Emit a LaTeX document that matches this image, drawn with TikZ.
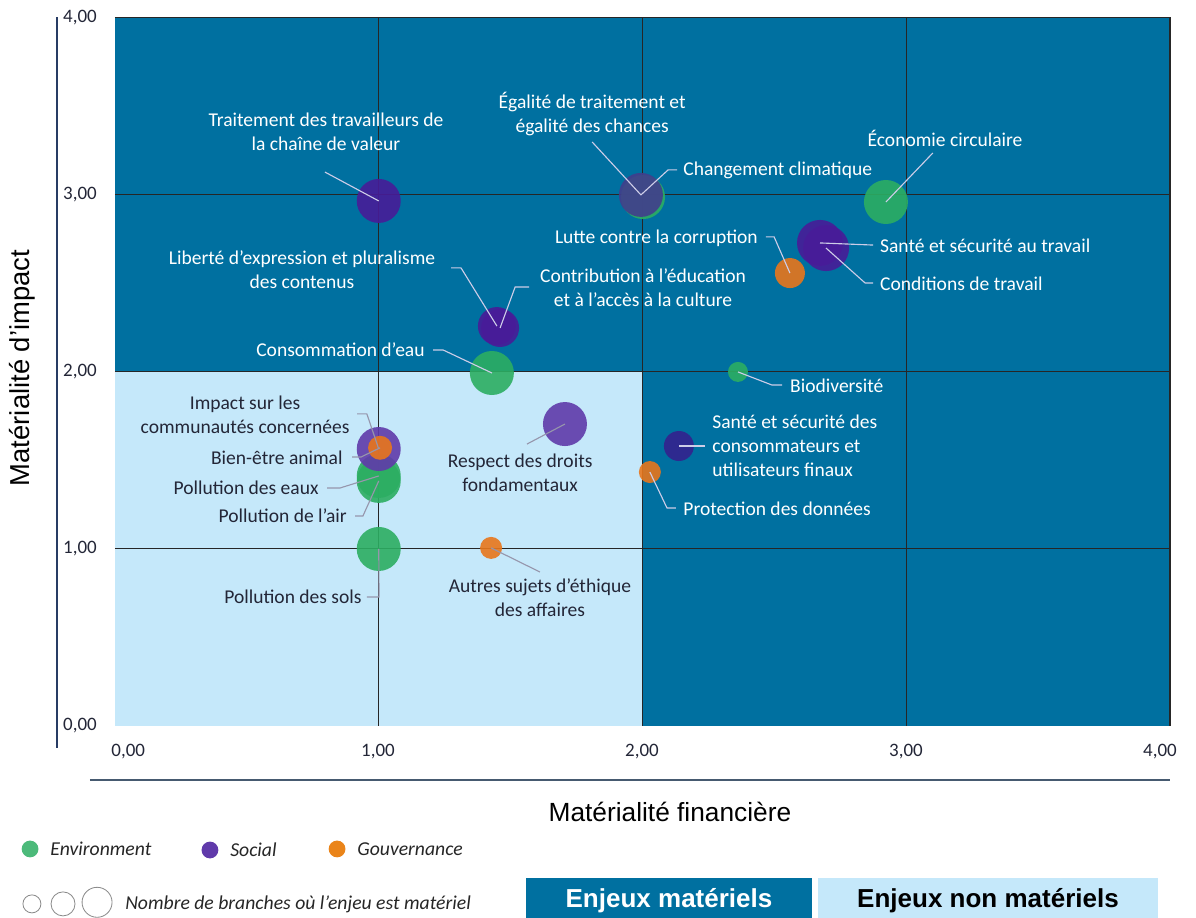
\documentclass[tikz,border=0pt]{standalone}
\usepackage{fontspec}
\setmainfont{Carlito}
\newfontfamily\arialfont{Liberation Sans}
\usetikzlibrary{positioning}
\definecolor{matblue}{RGB}{0,112,160}
\definecolor{nonmatblue}{RGB}{197,232,250}
\definecolor{envgreen}{RGB}{44,174,98}
\definecolor{socpurple}{RGB}{72,28,152}
\definecolor{soclight}{RGB}{96,58,170}
\definecolor{socdark}{RGB}{52,34,142}
\definecolor{socslate}{RGB}{66,62,140}
\definecolor{govorange}{RGB}{232,118,28}
\definecolor{leadlight}{RGB}{205,205,232}
\definecolor{leaddark}{RGB}{150,150,172}
\definecolor{lbldark}{RGB}{35,38,55}
\definecolor{axisnavy}{RGB}{40,60,100}
\definecolor{axisslate}{RGB}{70,90,112}

\begin{document}
\begin{tikzpicture}[x=6.59375cm, y=4.43cm,
	bub/.style={circle, inner sep=0pt, minimum size=#1, fill opacity=0.9},
	env/.style={bub=#1, fill=envgreen},
	soc/.style={bub=#1, fill=socpurple},
	gov/.style={bub=#1, fill=govorange},
	lbl/.style={font=\fontsize{13.9}{17}\selectfont, text=white, align=center, inner sep=0pt},
	lbldk/.style={lbl, text=lbldark},
	lead/.style={draw=leadlight, line width=0.8pt},
	leaddk/.style={lead, draw=leaddark},
	tick/.style={font=\fontsize{13.5}{16}\selectfont, text=lbldark, inner sep=0pt},
	grid/.style={draw=black!85, line width=0.9pt},
	legdot/.style={circle, inner sep=0pt, minimum size=0.42cm},
	legtxt/.style={font=\fontsize{14}{16}\selectfont\itshape, text=black!85, anchor=west, inner sep=0pt},
	keybox/.style={font=\arialfont\bfseries\fontsize{18.5}{22}\selectfont, minimum height=1.1cm, anchor=north, inner sep=0pt}]
	\useasboundingbox (-0.436,-1.078) rectangle (4.0986,4.097);
	
	\fill[matblue] (0,0) rectangle (4,4);
	\fill[nonmatblue] (0,0) rectangle (2,2);
	\foreach \k in {1,2,3} {
		\draw[grid] (\k,0) -- (\k,4);
		\draw[grid] (0,\k) -- (4,\k);
	}
	\draw[grid] (0,4) -- (4,4) -- (4,0);
	
	\foreach \k in {0,1,2,3,4}
		\node[tick, anchor=east] (ytick\k) at (-0.068,\k) {\k,00};
	\node[tick] (xtick0) at (0.05,-0.147) {0,00};
	\node[tick] (xtick1) at (0.997,-0.147) {1,00};
	\node[tick] (xtick2) at (1.998,-0.147) {2,00};
	\node[tick] (xtick3) at (2.999,-0.147) {3,00};
	\node[tick] (xtick4) at (3.962,-0.147) {4,00};
	
	\coordinate (ytop) at (-0.220,4.001);
	\coordinate (ybot) at (-0.220,-0.124);
	\draw[axisnavy, line width=1pt] (ytop) -- (ybot);
	\coordinate (xleft) at (-0.095,-0.305);
	\coordinate (xright) at (4.0,-0.305);
	\draw[axisslate, line width=1.6pt] (xleft) -- (xright);
	\node[font=\arialfont\fontsize{18.7}{22}\selectfont] (xtitle) at (2.104,-0.485) {Matérialité financière};
	\node[font=\arialfont\fontsize{19.5}{22}\selectfont, rotate=90] (ytitle) at (-0.353,2.02) {Matérialité d’impact};
	
	\node[env=1.1cm] (b-clim) at (2.002,2.985) {};
	\node[bub=1.1cm, fill=socslate] (b-egal) at (1.994,2.997) {};
	\node[soc=1.1cm] (b-trav) at (1.0,2.963) {};
	\node[env=1.1cm] (b-eco) at (2.923,2.957) {};
	\node[soc=1.15cm] (b-sst) at (2.673,2.726) {};
	\node[soc=1.15cm] (b-cond) at (2.696,2.697) {};
	\node[gov=0.75cm] (b-corr) at (2.559,2.556) {};
	\node[soc=0.95cm] (b-lib) at (1.448,2.257) {};
	\node[soc=0.95cm] (b-edu) at (1.46,2.246) {};
	\node[env=1.1cm] (b-eau) at (1.429,1.992) {};
	\node[env=0.5cm] (b-bio) at (2.362,1.998) {};
	\node[bub=1.1cm, fill=soclight] (b-droits) at (1.706,1.704) {};
	\node[bub=0.75cm, fill=socdark] (b-cons) at (2.138,1.58) {};
	\node[gov=0.55cm] (b-donn) at (2.028,1.433) {};
	\node[env=1.1cm] (b-air) at (1.0,1.383) {};
	\node[env=1.1cm] (b-eaux) at (1.0,1.411) {};
	\node[bub=1.1cm, fill=soclight] (b-comm) at (1.0,1.563) {};
	\node[gov=0.6cm] (b-animal) at (1.005,1.57) {};
	\node[env=1.1cm] (b-sols) at (1.0,0.999) {};
	\node[gov=0.55cm] (b-ethique) at (1.426,1.005) {};
	
	\node[lbl] (trav) at (0.8,3.352) {Traitement des travailleurs de\\la chaîne de valeur};
	\node[lbl] (egal) at (1.809,3.454) {Égalité de traitement et\\égalité des chances};
	\node[lbl, anchor=west] (clim) at (2.154,3.138) {Changement climatique};
	\node[lbl] (eco) at (3.147,3.318) {Économie circulaire};
	\node[lbl, anchor=east] (corr) at (2.438,2.754) {Lutte contre la corruption};
	\node[lbl, anchor=west] (sst) at (2.9,2.709) {Santé et sécurité au travail};
	\node[lbl, anchor=west] (cond) at (2.9,2.494) {Conditions de travail};
	\node[lbl] (lib) at (0.709,2.573) {Liberté d’expression et pluralisme\\des contenus};
	\node[lbl] (edu) at (2.002,2.472) {Contribution à l’éducation\\et à l’accès à la culture};
	\node[lbl, anchor=east] (eau) at (1.175,2.122) {Consommation d’eau};
	\node[lbl, anchor=west] (bio) at (2.559,1.918) {Biodiversité};
	\node[lbldk] (comm) at (0.493,1.755) {Impact sur les\\communautés concernées};
	\node[lbldk, anchor=east] (animal) at (0.864,1.512) {Bien-être animal};
	\node[lbldk, anchor=east] (eaux) at (0.773,1.343) {Pollution des eaux};
	\node[lbldk, anchor=east] (air) at (0.88,1.185) {Pollution de l’air};
	\node[lbldk, anchor=east] (sols) at (0.936,0.728) {Pollution des sols};
	\node[lbldk] (droits) at (1.536,1.428) {Respect des droits\\fondamentaux};
	\node[lbl, anchor=west, align=left] (cons) at (2.264,1.58) {Santé et sécurité des\\consommateurs et\\utilisateurs finaux};
	\node[lbl, anchor=west] (donn) at (2.154,1.225) {Protection des données};
	\node[lbldk] (ethique) at (1.611,0.722) {Autres sujets d’éthique\\des affaires};
	
	\coordinate (c-trav) at (0.796,3.126);
	\coordinate (c-egal) at (1.809,3.296);
	\coordinate (c-clim1) at (2.097,3.138);
	\coordinate (c-clim2) at (2.131,3.138);
	\coordinate (c-eco) at (3.101,3.234);
	\coordinate (c-corr1) at (2.468,2.76);
	\coordinate (c-corr2) at (2.499,2.76);
	\coordinate (c-sst) at (2.874,2.714);
	\coordinate (c-cond1) at (2.844,2.5);
	\coordinate (c-cond2) at (2.874,2.5);
	\coordinate (c-lib1) at (1.274,2.585);
	\coordinate (c-lib2) at (1.312,2.585);
	\coordinate (c-edu1) at (1.517,2.477);
	\coordinate (c-edu2) at (1.57,2.477);
	\coordinate (c-eau1) at (1.206,2.122);
	\coordinate (c-eau2) at (1.244,2.122);
	\coordinate (c-bio1) at (2.491,1.924);
	\coordinate (c-bio2) at (2.529,1.924);
	\coordinate (c-comm1) at (0.918,1.761);
	\coordinate (c-comm2) at (0.955,1.761);
	\coordinate (c-animal1) at (0.899,1.518);
	\coordinate (c-animal2) at (0.933,1.518);
	\coordinate (c-eaux1) at (0.804,1.343);
	\coordinate (c-eaux2) at (0.853,1.343);
	\coordinate (c-air1) at (0.91,1.185);
	\coordinate (c-air2) at (0.94,1.185);
	\coordinate (c-sols1) at (0.955,0.728);
	\coordinate (c-sols2) at (1.001,0.728);
	\coordinate (c-droits) at (1.562,1.591);
	\coordinate (c-cons) at (2.237,1.58);
	\coordinate (c-donn1) at (2.093,1.23);
	\coordinate (c-donn2) at (2.127,1.23);
	\coordinate (c-ethique) at (1.611,0.869);
	
	\draw[lead] (c-trav) -- (b-trav.center);
	\draw[lead] (c-egal) -- (b-egal.center);
	\draw[lead] (b-egal.center) -- (c-clim1) -- (c-clim2);
	\draw[lead] (b-eco.center) -- (c-eco);
	\draw[lead] (c-corr1) -- (c-corr2) -- (b-corr.center);
	\draw[lead] (b-sst.center) -- (c-sst);
	\draw[lead] (b-cond.center) -- (c-cond1) -- (c-cond2);
	\draw[lead] (c-lib1) -- (c-lib2) -- (b-lib.center);
	\draw[lead] (b-edu.center) -- (c-edu1) -- (c-edu2);
	\draw[lead] (c-eau1) -- (c-eau2) -- (b-eau.center);
	\draw[lead] (b-bio.center) -- (c-bio1) -- (c-bio2);
	\draw[leaddk] (c-comm1) -- (c-comm2) -- (b-comm.center);
	\draw[leaddk] (c-animal1) -- (c-animal2) -- (b-animal.center);
	\draw[leaddk] (c-eaux1) -- (c-eaux2) -- (b-eaux.center);
	\draw[leaddk] (c-air1) -- (c-air2) -- (b-air.center);
	\draw[leaddk] (c-sols1) -- (c-sols2) -- (b-sols.center);
	\draw[leaddk] (b-droits.center) -- (c-droits);
	\draw[lead] (b-cons.center) -- (c-cons);
	\draw[lead] (b-donn.center) -- (c-donn1) -- (c-donn2);
	\draw[leaddk] (b-ethique.center) -- (c-ethique);
	
	\node[legdot, fill=envgreen!85!white] (dot-env) at (-0.322,-0.694) {};
	\node[legtxt] (key-env) at (-0.246,-0.694) {Environment};
	\node[legdot, fill=soclight] (dot-soc) at (0.36,-0.7) {};
	\node[legtxt] (key-soc) at (0.436,-0.7) {Social};
	\node[legdot, fill=govorange!90!yellow] (dot-gov) at (0.842,-0.694) {};
	\node[legtxt] (key-gov) at (0.918,-0.694) {Gouvernance};
	\node[circle, draw=black!45, line width=0.6pt, minimum size=0.45cm] (size1) at (-0.315,-1.004) {};
	\node[circle, draw=black!45, line width=0.6pt, minimum size=0.6cm] (size2) at (-0.197,-1.004) {};
	\node[circle, draw=black!45, line width=0.6pt, minimum size=0.75cm] (size3) at (-0.068,-0.995) {};
	\node[legtxt] (key-size) at (0.038,-1.004) {Nombre de branches où l’enjeu est matériel};
	
	\node[keybox, fill=matblue, text=white, minimum width=7.154cm] (key-mat) at (2.1005,-0.858) {Enjeux matériels};
	\node[keybox, fill=nonmatblue, text=black, minimum width=8.506cm] (key-nonmat) at (3.31,-0.858) {Enjeux non matériels};
\end{tikzpicture}
\end{document}
